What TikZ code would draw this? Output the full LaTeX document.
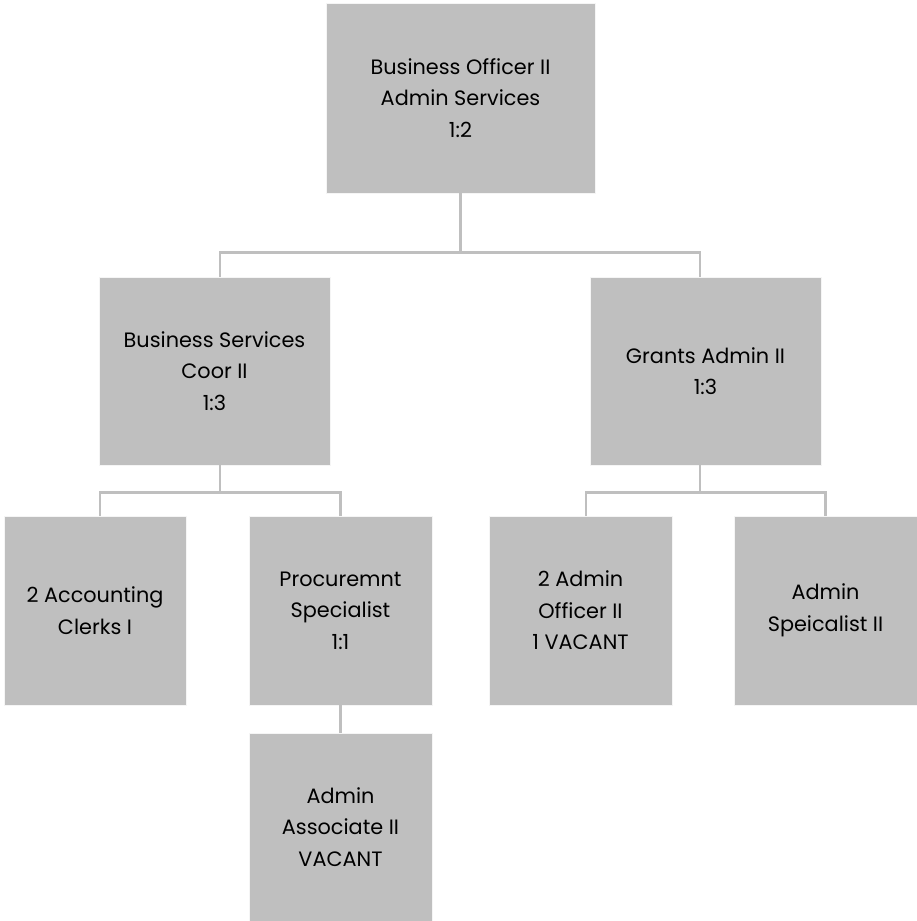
\documentclass[tikz,border=0pt]{standalone}
\usepackage{fontspec}
\setmainfont{Poppins}
\usetikzlibrary{calc}
\definecolor{boxgray}{HTML}{BFBFBF}
\definecolor{linegray}{HTML}{BFBFBF}
\tikzset{
  x=0.75pt, y=-0.75pt,
  orgbox/.style={fill=boxgray, draw=white!85!boxgray, line width=0.6pt,
    align=center, inner sep=0pt, text=black,
    font=\fontsize{15.6}{23.6}\selectfont},
  conn/.style={draw=linegray, line width=2pt}
}
\begin{document}
\begin{tikzpicture}
\useasboundingbox (0,0) rectangle (917,921);
% boxes
\node[orgbox, minimum width=269*0.75pt, minimum height=190*0.75pt] (top) at (460.5,98)
  {Business Officer II\\Admin Services\\1:2};
\node[orgbox, minimum width=231*0.75pt, minimum height=188*0.75pt] (bs) at (214.5,371)
  {Business Services\\Coor II\\1:3};
\node[orgbox, minimum width=231*0.75pt, minimum height=188*0.75pt] (ga) at (705.5,371)
  {Grants Admin II\\1:3};
\node[orgbox, minimum width=182*0.75pt, minimum height=189*0.75pt] (clerks) at (95,610.5)
  {2 Accounting\\Clerks I};
\node[orgbox, minimum width=183*0.75pt, minimum height=189*0.75pt] (proc) at (340.5,610.5)
  {Procuremnt\\Specialist\\1:1};
\node[orgbox, minimum width=183*0.75pt, minimum height=189*0.75pt] (officer) at (580.5,610.5)
  {2 Admin\\Officer II\\1 VACANT};
\node[orgbox, minimum width=183*0.75pt, minimum height=189*0.75pt] (spec) at (825.5,610.5)
  {Admin\\Speicalist II};
\node[orgbox, minimum width=183*0.75pt, minimum height=188*0.75pt] (assoc) at (340.5,827)
  {Admin\\Associate II\\VACANT};
% attachment points
\coordinate (bsT) at ($(bs.north)+(5.5,0)$);
\coordinate (gaT) at ($(ga.north)+(-5.5,0)$);
\coordinate (bsB) at ($(bs.south)+(5.5,0)$);
\coordinate (gaB) at ($(ga.south)+(-5.5,0)$);
\coordinate (clT) at ($(clerks.north)+(5,0)$);
\coordinate (ofT) at ($(officer.north)+(5.5,0)$);
\coordinate (bar1) at ($(bsT)+(0,-24)$);
\coordinate (bar2) at ($(clT)+(0,-23)$);
% connectors
\draw[conn] (top.south) -- (top.south |- bar1);
\draw[conn] (bsT) -- (bar1) -| (gaT);
\draw[conn] (bsB) -- (bsB |- bar2);
\draw[conn] (clT) -- (bar2) -| (proc.north);
\draw[conn] (gaB) -- (gaB |- bar2);
\draw[conn] (ofT) -- (ofT |- bar2) -| (spec.north);
\draw[conn] (proc.south) -- (assoc.north);
\end{tikzpicture}
\end{document}
